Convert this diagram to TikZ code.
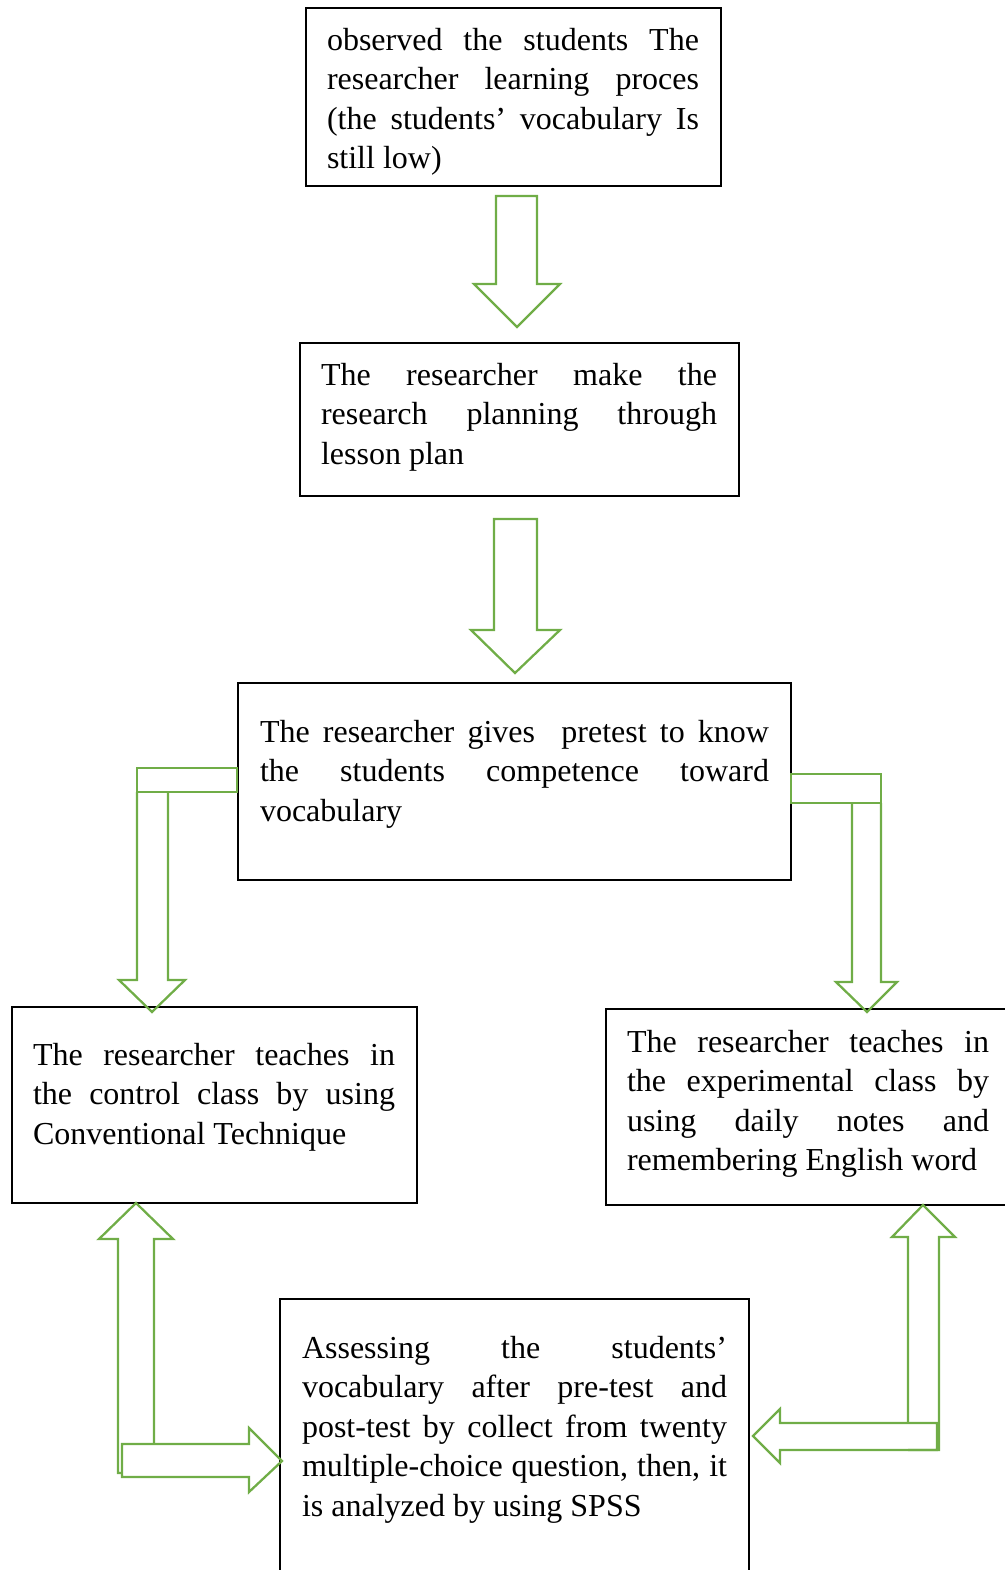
\documentclass[tikz,border=0pt]{standalone}
\usepackage{fontspec}
\setmainfont{Liberation Serif}
\definecolor{arrowgreen}{HTML}{70AD47}
\hyphenpenalty=10000
\exhyphenpenalty=10000
\tolerance=10000
\tikzset{
  box/.style={draw=black, line width=2pt, rectangle, inner sep=0pt, outer sep=0pt, anchor=north west},
  txt/.style={anchor=north west, inner sep=0pt, outer sep=0pt, align=justify,
    font=\fontsize{24}{29.6}\selectfont,
    execute at begin node={\hyphenpenalty=10000\exhyphenpenalty=10000\tolerance=10000}},
  blockarrow/.style={draw=arrowgreen, line width=1.7pt, line join=miter}
}
\begin{document}
\begin{tikzpicture}[x=0.75pt,y=-0.75pt]
\useasboundingbox (0,0) rectangle (1005,1570);
\clip (0,0) rectangle (1005,1570);

% boxes
\node[box, minimum width=311.25pt, minimum height=133.5pt] (b1) at (306,8) {};
\node[box, minimum width=329.25pt, minimum height=114.75pt] (b2) at (300,343) {};
\node[box, minimum width=414.75pt, minimum height=147.75pt] (b3) at (238,683) {};
\node[box, minimum width=303.75pt, minimum height=147pt] (b4) at (12,1007) {};
\node[box, minimum width=306.75pt, minimum height=147pt] (b5) at (606,1009) {};
\node[box, minimum width=351.75pt, minimum height=210.75pt] (b6) at (280,1299) {};

% texts
\node[txt, text width=279pt] (t1) at (327,22.5) {\strut observed the students The\linebreak researcher learning proces\linebreak (the students’ vocabulary Is\linebreak still low)};
\node[txt, text width=297pt] (t2) at (321,357.5) {\strut The researcher make the\linebreak research planning through\linebreak lesson plan};
\node[txt, text width=381.75pt] (t3) at (260,714.5) {\strut The researcher gives\ \ pretest to know\linebreak the students competence toward\linebreak vocabulary};
\node[txt, text width=271.5pt] (t4) at (33,1037.5) {\strut The researcher teaches in\linebreak the control class by using\linebreak Conventional Technique};
\node[txt, text width=271.5pt] (t5) at (627,1024.5) {\strut The researcher teaches in\linebreak the experimental class by\linebreak using daily notes and\linebreak remembering English word};
\node[txt, text width=318.75pt] (t6) at (302,1330.5) {\strut Assessing the students’\linebreak vocabulary after pre-test and\linebreak post-test by collect from twenty\linebreak multiple-choice question, then, it\linebreak is analyzed by using SPSS};

% down arrows
\draw[blockarrow] (496,196) -- (537,196) -- (537,284) -- (560,284) -- (517,327) -- (474,284) -- (496,284) -- cycle;
\draw[blockarrow] (494,519) -- (537,519) -- (537,630) -- (560,630) -- (515,673) -- (471,630) -- (494,630) -- cycle;

% left bent arrow
\draw[blockarrow] (137,768) rectangle (237,792);
\draw[blockarrow] (137,792) -- (137,980) -- (119,980) -- (152,1012) -- (185,980) -- (168,980) -- (168,792);

% right bent arrow
\draw[blockarrow] (791,774) rectangle (881,803);
\draw[blockarrow] (852,803) -- (852,982) -- (836,982) -- (867,1012) -- (897,982) -- (881,982) -- (881,803);

% bottom-left arrows
\draw[blockarrow] (122,1473) -- (118,1473) -- (118,1239) -- (99,1239) -- (136,1203) -- (173,1239) -- (154,1239) -- (154,1444);
\draw[blockarrow] (122,1444) -- (249,1444) -- (249,1428) -- (282,1461) -- (249,1492) -- (249,1477) -- (122,1477) -- cycle;

% bottom-right arrows
\draw[blockarrow] (908,1423) -- (908,1237) -- (892,1237) -- (923,1205) -- (955,1237) -- (939,1237) -- (939,1450) -- (908,1450);
\draw[blockarrow] (937,1423) -- (780,1423) -- (780,1409) -- (753,1436) -- (780,1463) -- (780,1450) -- (937,1450) -- cycle;
\end{tikzpicture}
\end{document}
